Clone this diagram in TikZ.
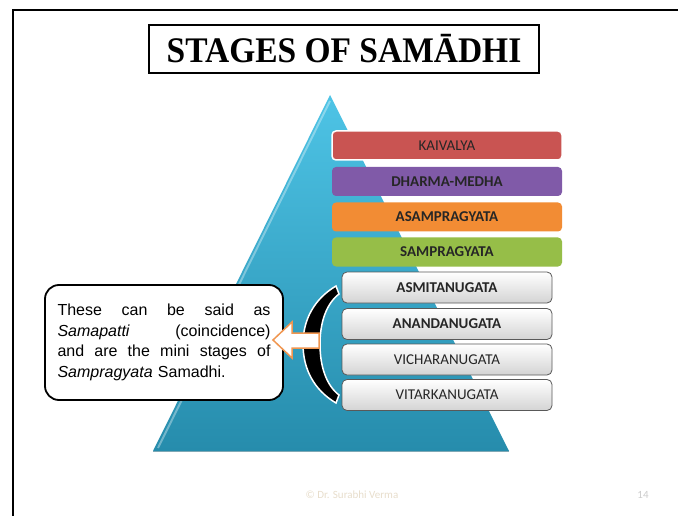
\documentclass[tikz,border=0pt]{standalone}
\usepackage{fontspec}
\setmainfont{Liberation Serif}
\newfontfamily\carlito{Carlito}
\newfontfamily\arialf{Liberation Sans}
\definecolor{kred}{RGB}{201,84,82}
\definecolor{dpurple}{RGB}{128,90,168}
\definecolor{aorange}{RGB}{242,140,52}
\definecolor{sgreen}{RGB}{150,190,72}
\definecolor{pyrtop}{RGB}{78,196,230}
\definecolor{pyrbot}{RGB}{38,140,172}
\definecolor{arrowor}{RGB}{240,150,80}
\definecolor{footc}{RGB}{232,222,204}
\newcommand{\jline}[1]{\leavevmode\hbox to 213pt{#1}}
\begin{document}
\begin{tikzpicture}[x=1pt,y=-1pt,
  stage/.style={rounded corners=4pt, minimum width=230pt, minimum height=29pt, inner sep=0pt,
    font=\carlito\fontsize{15}{18}\selectfont, text=black!85},
  substage/.style={rounded corners=5pt, minimum width=210pt, minimum height=31pt, inner sep=0pt,
    draw=black!65, line width=0.8pt, top color=white, bottom color=black!17,
    font=\carlito\fontsize{15}{18}\selectfont, text=black!85},
  foot/.style={font=\carlito\fontsize{11}{13}\selectfont, text=footc, inner sep=0pt}
]
\useasboundingbox (0,0) rectangle (678,516);
\fill[white] (0,0) rectangle (678,516);
% slide frame
\draw[line width=2pt] (13,516) -- (13,10) -- (678,10);
% title
\node[draw, line width=1.5pt, minimum width=390pt, minimum height=48pt, inner sep=0pt] (title) at (344,49)
  {\fontsize{36}{40}\selectfont\bfseries\scalebox{0.93}[1]{STAGES OF SAMĀDHI}};
% pyramid
\shade[top color=pyrtop, bottom color=pyrbot] (330,95) -- (509,451) -- (153,451) -- cycle;
\draw[white, opacity=0.35, line width=2pt] (330,101) -- (158,448);
\draw[pyrbot!70!black, opacity=0.5, line width=1pt] (153,451) -- (509,451);
% upper stages
\node[stage, fill=kred, draw=white, line width=1.5pt] (kaivalya) at (447,145.5) {KAIVALYA};
\node[stage, fill=dpurple] (dharma) at (447,181.5) {\bfseries DHARMA-MEDHA};
\node[stage, fill=aorange] (asam) at (447,217) {\bfseries ASAMPRAGYATA};
\node[stage, fill=sgreen] (sam) at (447,252) {\bfseries SAMPRAGYATA};
% lower stages
\node[substage] (asmita) at (447,287.5) {\bfseries ASMITANUGATA};
\node[substage] (ananda) at (447,324) {\bfseries ANANDANUGATA};
\node[substage] (vichara) at (447,359.5) {VICHARANUGATA};
\node[substage] (vitarka) at (447,395) {VITARKANUGATA};
% bracket
\filldraw[fill=black, draw=white, line width=1.5pt]
  (336,286) .. controls (314,299) and (303,320) .. (303,344)
  .. controls (303,369) and (314,390) .. (336,403)
  -- (339,395) .. controls (326,385) and (320,366) .. (320,344)
  .. controls (320,323) and (326,304) .. (339,294) -- cycle;
% callout
\node[draw, line width=1.8pt, rounded corners=14pt, fill=white, minimum width=238pt, minimum height=115pt,
  inner xsep=12.5pt, text width=213pt, align=left, font=\arialf\fontsize{16}{20.5}\selectfont] (note) at (164,342.5)
  {\jline{These\hfill can\hfill be\hfill said\hfill as}\\
   \jline{\textit{Samapatti}\hfill (coincidence)}\\
   \jline{and\hfill are\hfill the\hfill mini\hfill stages\hfill of}\\
   \textit{Sampragyata} Samadhi.};
% block arrow from bracket to callout
\coordinate (tip) at (273,340);
\filldraw[fill=white, draw=arrowor, line width=1.5pt, line join=miter]
  (tip) -- (292,322) -- (292,333) -- (319,333) -- (319,348) -- (292,348) -- (292,358) -- cycle;
% footer
\node[foot] (author) at (352,495) {© Dr. Surabhi Verma};
\node[foot, text=black!20] (page) at (643,495) {14};
\end{tikzpicture}
\end{document}
